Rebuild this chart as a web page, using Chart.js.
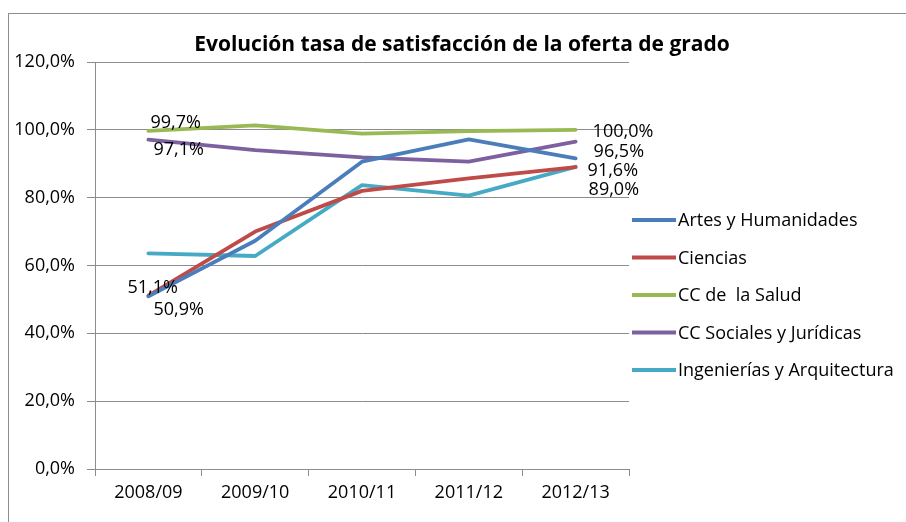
<!DOCTYPE html>
<html>
<head>
<meta charset="utf-8">
<script src="https://cdn.jsdelivr.net/npm/chart.js@4.4.1/dist/chart.umd.min.js"></script>
<style>
  body { margin: 0; background: #fff; }
  #wrap { width: 906px; height: 522px; position: relative; }
</style>
</head>
<body>
<div id="wrap"><canvas id="lineChart"></canvas></div>
<script>
// datos
const cursos = ['2008/09', '2009/10', '2010/11', '2011/12', '2012/13'];
const artes = [50.9, 67.3, 90.6, 97.2, 91.6];
const ciencias = [51.1, 70.0, 82.0, 85.7, 89.0];
const salud = [99.7, 101.3, 98.9, 99.6, 100.0];
const sociales = [97.1, 94.0, 91.9, 90.6, 96.5];
const ingenierias = [63.6, 62.8, 83.7, 80.6, 89.1];
const yTicks = [0, 20, 40, 60, 80, 100, 120];

const FONT = '"Open Sans", sans-serif';
const GRIS = '#8c8c8c';

function pct(v) {
    return v.toFixed(1).replace('.', ',') + '%';
}

// posición de las etiquetas de datos (desplazamiento desde el punto)
const etiquetas = {
    0: { first: [5, 14], last: [12, 13] },
    1: { first: [-21, -8], last: [13, 23] },
    2: { first: [2, -8], last: [17, 2] },
    3: { first: [5, 10], last: [18, 10] }
};

const marco = {
    id: 'marco',
    beforeDraw(chart) {
        const ctx = chart.ctx;
        ctx.save();
        ctx.fillStyle = '#fff';
        ctx.fillRect(0, 0, chart.width, chart.height);
        ctx.strokeStyle = GRIS;
        ctx.lineWidth = 1;
        ctx.strokeRect(8.5, 13.5, 1000, 1000);
        ctx.restore();
    },
    afterDraw(chart) {
        const ctx = chart.ctx;
        ctx.save();
        // título
        ctx.fillStyle = '#000';
        ctx.font = 'bold 21px ' + FONT;
        ctx.textAlign = 'center';
        ctx.textBaseline = 'middle';
        ctx.fillText('Evolución tasa de satisfacción de la oferta de grado', 462, 45);

        // leyenda
        ctx.font = '18px ' + FONT;
        ctx.textAlign = 'left';
        chart.data.datasets.forEach((ds, i) => {
            const y = 220 + i * 37.5;
            ctx.strokeStyle = ds.borderColor;
            ctx.lineWidth = 3.8;
            ctx.beginPath();
            ctx.moveTo(632, y);
            ctx.lineTo(676, y);
            ctx.stroke();
            ctx.fillStyle = '#000';
            ctx.fillText(ds.label, 678, y + 1);
        });

        // etiquetas de datos
        ctx.font = '18px ' + FONT;
        Object.keys(etiquetas).forEach((k) => {
            const meta = chart.getDatasetMeta(+k);
            const data = chart.data.datasets[k].data;
            const pts = meta.data;
            const e = etiquetas[k];
            const p0 = pts[0], p1 = pts[pts.length - 1];
            ctx.fillText(pct(data[0]), p0.x + e.first[0], p0.y + e.first[1]);
            ctx.fillText(pct(data[data.length - 1]), p1.x + e.last[0], p1.y + e.last[1]);
        });
        ctx.restore();
    }
};

const ctx = document.getElementById('lineChart').getContext('2d');
new Chart(ctx, {
    type: 'line',
    data: {
        labels: cursos,
        datasets: [
            { label: 'Artes y Humanidades', data: artes, borderColor: '#4a7ebb' },
            { label: 'Ciencias', data: ciencias, borderColor: '#be4b48' },
            { label: 'CC de  la Salud', data: salud, borderColor: '#98b954' },
            { label: 'CC Sociales y Jurídicas', data: sociales, borderColor: '#7d60a0' },
            { label: 'Ingenierías y Arquitectura', data: ingenierias, borderColor: '#46aac5' }
        ]
    },
    options: {
        responsive: true,
        maintainAspectRatio: false,
        animation: false,
        layout: { padding: { top: 62, right: 277, bottom: 0, left: 0 } },
        elements: {
            line: { borderWidth: 3.8, tension: 0, borderJoinStyle: 'round', borderCapStyle: 'round' },
            point: { radius: 0 }
        },
        plugins: {
            legend: { display: false },
            title: { display: false },
            tooltip: { enabled: false }
        },
        scales: {
            x: {
                offset: true,
                afterFit: (s) => { s.height = 53; },
                grid: { offset: true, drawOnChartArea: false, color: GRIS, tickLength: 7 },
                border: { color: GRIS },
                ticks: { color: '#000', font: { family: FONT, size: 18 }, padding: 6, maxRotation: 0 }
            },
            y: {
                min: 0,
                max: 120,
                afterFit: (s) => { s.width = 95; },
                afterBuildTicks: (s) => { s.ticks = yTicks.map(v => ({ value: v })); },
                grid: { color: GRIS, tickLength: 8 },
                border: { color: GRIS },
                ticks: { color: '#000', font: { family: FONT, size: 18 }, padding: 12, callback: (v) => pct(v) }
            }
        }
    },
    plugins: [marco]
});
</script>
</body>
</html>
